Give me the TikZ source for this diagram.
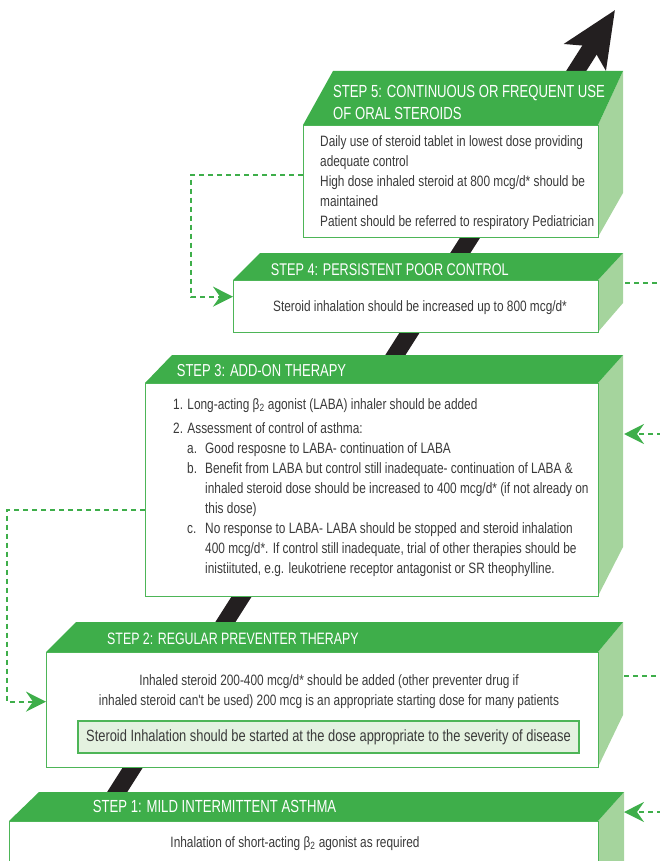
\documentclass[tikz,border=0pt]{standalone}
\usepackage{fontspec}
\setmainfont{Liberation Sans}
\newfontfamily\hdrfont{Liberation Sans}[FakeStretch=0.75]
\newfontfamily\bodyfont{Liberation Sans}[FakeStretch=0.79]
\usetikzlibrary{arrows.meta}
\definecolor{hdr}{HTML}{3EAE4A}
\definecolor{sidec}{HTML}{A5D49D}
\definecolor{edgec}{HTML}{4DB557}
\definecolor{txt}{HTML}{3A3A3A}
\definecolor{notec}{HTML}{E4F2E0}
\definecolor{arrc}{HTML}{231F20}
\newcommand{\mystrut}{\rule{0pt}{11.5pt}}
\newcommand{\hdrstrut}{\rule{0pt}{12.7pt}}
\newcommand{\hdrsz}[1]{\hdrfont\fontsize{#1}{21.7}\selectfont}
\begin{document}
\begin{tikzpicture}[x=1pt,y=-1pt,
  front/.style={draw=edgec, line width=1.3pt, fill=white, anchor=north west, inner sep=0pt},
  hdrtxt/.style={text=white, inner sep=0pt, align=left},
  bodyl/.style={text=txt, inner sep=0pt, anchor=north west, align=left, font=\bodyfont\fontsize{15}{20}\selectfont},
  bodyc/.style={text=txt, inner sep=0pt, align=center, font=\bodyfont\fontsize{15}{20}\selectfont},
  notebox/.style={draw=edgec, line width=1.3pt, fill=notec, text=txt, inner sep=0pt, font=\bodyfont\fontsize{16.3}{18}\selectfont},
  dashconn/.style={draw=hdr, line width=2pt, dash pattern=on 5pt off 4pt},
  dtip/.style={-{Stealth[length=20pt,width=20pt,inset=7pt]}},
  bigarrow/.style={draw=arrc, line width=17pt, -{Stealth[length=55pt,width=48pt,inset=12pt]}}
]
\useasboundingbox (0,0) rectangle (659,861);

% big black arrow behind the steps
\coordinate (arrowstart) at (93,830);
\coordinate (arrowtip) at (615,10);
\draw[bigarrow] (arrowstart) -- (arrowtip);

% ---------- STEP 5 ----------
\fill[sidec] (598,125) -- (623,71) -- (623,193) -- (598,237) -- cycle;
\fill[hdr] (303,125) -- (333,71) -- (623,71) -- (598,125) -- cycle;
\node[front, minimum width=295pt, minimum height=112pt] (s5) at (303,125) {};
\node[hdrtxt, anchor=north west, font=\hdrsz{17.5}] (h5) at (333,84.6) {\hdrstrut STEP 5: CONTINUOUS OR FREQUENT USE\\OF ORAL STEROIDS};
\node[bodyl] (t5) at (320,134.5) {\mystrut Daily use of steroid tablet in lowest dose providing\\adequate control\\High dose inhaled steroid at 800 mcg/d* should be\\maintained\\Patient should be referred to respiratory Pediatrician};

% ---------- STEP 4 ----------
\fill[sidec] (598,280) -- (623,253) -- (623,303) -- (598,332) -- cycle;
\fill[hdr] (233,280) -- (260,253) -- (623,253) -- (598,280) -- cycle;
\node[front, minimum width=365pt, minimum height=52pt] (s4) at (233,280) {};
\node[hdrtxt, anchor=base west, font=\hdrsz{16.9}] (h4) at (270.7,275) {STEP 4: PERSISTENT POOR CONTROL};
\node[bodyc, anchor=base] (t4) at (420,311) {Steroid inhalation should be increased up to 800 mcg/d*};

% ---------- STEP 3 ----------
\fill[sidec] (598,383) -- (623,355) -- (623,547) -- (598,596) -- cycle;
\fill[hdr] (145,383) -- (172,355) -- (623,355) -- (598,383) -- cycle;
\node[front, minimum width=453pt, minimum height=213pt] (s3) at (145,383) {};
\node[hdrtxt, anchor=base west, font=\hdrsz{17.3}] (h3) at (176.7,376.7) {STEP 3: ADD-ON THERAPY};
\node[bodyl] (t3) at (173,397.5) {\mystrut 1. Long-acting β\textsubscript{2} agonist (LABA) inhaler should be added\\[4pt]
2. Assessment of control of asthma:\\
\hspace*{14pt}\makebox[18pt][l]{a.}Good resposne to LABA- continuation of LABA\\
\hspace*{14pt}\makebox[18pt][l]{b.}Benefit from LABA but control still inadequate- continuation of LABA \&\\
\hspace*{32pt}inhaled steroid dose should be increased to 400 mcg/d* (if not already on\\
\hspace*{32pt}this dose)\\
\hspace*{14pt}\makebox[18pt][l]{c.}No response to LABA- LABA should be stopped and steroid inhalation\\
\hspace*{32pt}400 mcg/d*. If control still inadequate, trial of other therapies should be\\
\hspace*{32pt}inistiituted, e.g. leukotriene receptor antagonist or SR theophylline.};

% ---------- STEP 2 ----------
\fill[sidec] (598,652) -- (623,622) -- (623,715) -- (598,767) -- cycle;
\fill[hdr] (46,652) -- (76,622) -- (623,622) -- (598,652) -- cycle;
\node[front, minimum width=552pt, minimum height=115pt] (s2) at (46,652) {};
\node[hdrtxt, anchor=base west, font=\hdrsz{16.5}] (h2) at (107,644.3) {STEP 2: REGULAR PREVENTER THERAPY};
\node[bodyc, anchor=north] (t2) at (329,674.2) {\mystrut Inhaled steroid 200-400 mcg/d* should be added (other preventer drug if\\inhaled steroid can't be used) 200 mcg is an appropriate starting dose for many patients};
\node[notebox, minimum width=501pt, minimum height=32pt] (n2) at (328.5,737) {Steroid Inhalation should be started at the dose appropriate to the severity of disease};

% ---------- STEP 1 ----------
\fill[sidec] (598,821) -- (624,792) -- (624,875) -- (598,875) -- cycle;
\fill[hdr] (9,821) -- (39,792) -- (624,792) -- (598,821) -- cycle;
\node[front, minimum width=589pt, minimum height=54pt] (s1) at (9,821) {};
\node[hdrtxt, anchor=base west, font=\hdrsz{17.5}] (h1) at (92.7,812.7) {STEP 1: MILD INTERMITTENT ASTHMA};
\node[bodyc, anchor=base] (t1) at (295,847) {Inhalation of short-acting β\textsubscript{2} agonist as required};

% ---------- dashed connectors ----------
\draw[dashconn, dtip] ([yshift=7pt]s5.west) -- ++(-112,0) |- ([yshift=10pt]s4.west);
\draw[dashconn, dtip] ([yshift=-19.5pt]s3.west) -- ++(-138,0) |- ([yshift=8.5pt]s2.west);

\coordinate (s4side) at (625,283);
\coordinate (e4) at (662,283);
\draw[dashconn] (s4side) -- (e4);
\coordinate (s3side) at (624,434);
\coordinate (e3) at (662,434);
\draw[dashconn, dtip] (e3) -- (s3side);
\coordinate (s2side) at (624,676);
\coordinate (e2) at (662,676);
\draw[dashconn] (s2side) -- (e2);
\coordinate (s1side) at (624,812);
\coordinate (e1) at (662,812);
\draw[dashconn, dtip] (e1) -- (s1side);
\end{tikzpicture}
\end{document}
